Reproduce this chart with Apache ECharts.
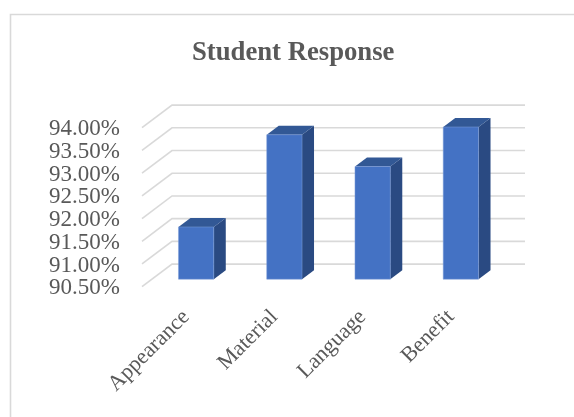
<!DOCTYPE html>
<html><head><meta charset="utf-8">
<style>html,body{margin:0;padding:0;background:#fff}#c{width:574px;height:417px}</style>
<script src="https://cdn.jsdelivr.net/npm/echarts@6/dist/echarts.min.js"></script>
</head><body><div id="c"></div>
<script>
const categories = ['Appearance','Material','Language','Benefit'];
const responseValues = [91.65,93.68,92.98,93.85];
const yTicks = [90.5,91,91.5,92,92.5,93,93.5,94];
const chart = echarts.init(document.getElementById('c'),null,{renderer:'canvas'});
const WALL_DX=30, WALL_DY=-22.6, BAR_DX=10, BAR_DY=-7.5, SIDE_DX=12, SIDE_DY=-9;
const serif='"Liberation Serif","Times New Roman",serif';
chart.setOption({
  animation:false,
  backgroundColor:'#fff',
  title:{text:'Student Response',left:187,top:35,itemGap:0,
    textStyle:{fontFamily:serif,fontWeight:'bold',fontSize:26.7,color:'#595959'}},
  graphic:[{type:'rect',z:-1,silent:true,shape:{x:10.5,y:14.5,width:600,height:440},
    style:{fill:'none',stroke:'#d9d9d9',lineWidth:1.6}}],
  grid:{left:142,top:127.7,width:353,height:159,containLabel:false},
  xAxis:{type:'category',data:categories,axisLine:{show:false},axisTick:{show:false},splitLine:{show:false},
    axisLabel:{rotate:45,margin:27,interval:0,fontFamily:serif,fontSize:22,color:'#595959'}},
  yAxis:{type:'value',min:90.5,max:94,interval:0.5,axisLine:{show:false},axisTick:{show:false},splitLine:{show:false},
    axisLabel:{show:false}},
  series:[
    {type:'custom',silent:true,z:1,data:yTicks.map(v=>[0,v]),
     renderItem(params,api){
       const r=params.coordSys, v=api.value(1), y=api.coord([0,v])[1];
       return {type:'group',children:[
         {type:'polyline',shape:{points:[[r.x,y],[r.x+WALL_DX,y+WALL_DY],[r.x+r.width+WALL_DX,y+WALL_DY]]},
           style:{fill:'none',stroke:'#d9d9d9',lineWidth:1.6}},
         {type:'text',x:r.x-22,y:y+1.5,style:{text:v.toFixed(2)+'%',fontFamily:serif,fontSize:23,fill:'#595959',align:'right',verticalAlign:'middle'}}
       ]};
     }},
    {type:'custom',silent:true,z:2,data:responseValues.map((v,i)=>[i,v]),
     renderItem(params,api){
       const top=api.coord([api.value(0),api.value(1)]), base=api.coord([api.value(0),90.5]);
       const w=api.size([1,0])[0]*0.4;
       const x0=top[0]-w/2+BAR_DX, x1=x0+w, yt=top[1]+BAR_DY, yb=base[1]+BAR_DY;
       const edge={stroke:'#7f9fd8',lineWidth:0.5};
       return {type:'group',children:[
         {type:'polygon',shape:{points:[[x1,yt],[x1+SIDE_DX,yt+SIDE_DY],[x1+SIDE_DX,yb+SIDE_DY],[x1,yb]]},style:{fill:'#2a4a82'}},
         {type:'polygon',shape:{points:[[x0,yt],[x0+SIDE_DX,yt+SIDE_DY],[x1+SIDE_DX,yt+SIDE_DY],[x1,yt]]},style:{fill:'#325895'}},
         {type:'rect',shape:{x:x0,y:yt,width:w,height:yb-yt},style:{fill:'#4472c4',...edge}}
       ]};
     }}
  ]
});
</script></body></html>
